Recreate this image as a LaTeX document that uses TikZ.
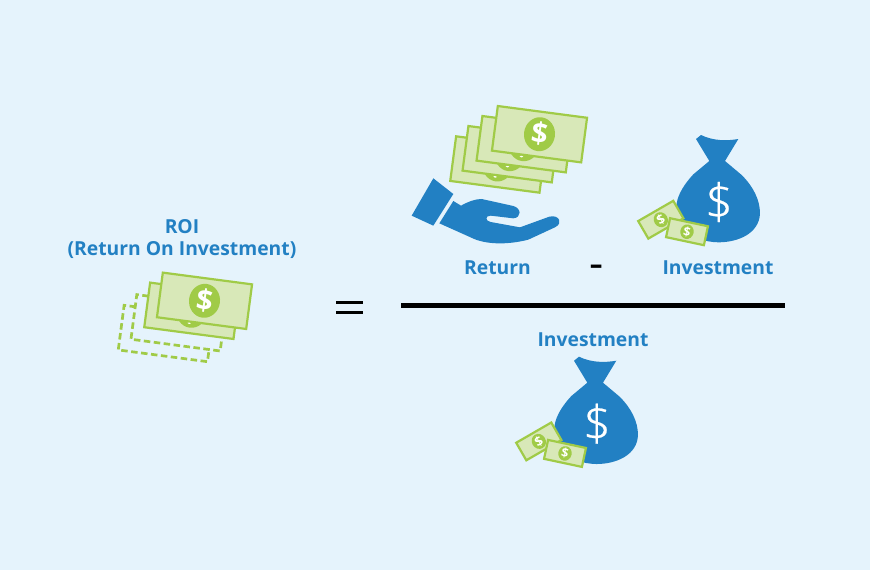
\documentclass[tikz,border=0pt]{standalone}
\usepackage{fontspec}
\setmainfont{Open Sans}
\newfontfamily\thinface[FakeBold=0.5]{Open Sans Light}
\definecolor{bgc}{HTML}{E5F3FC}
\definecolor{bluec}{HTML}{2280C3}
\definecolor{greenc}{HTML}{A0CB47}
\definecolor{lightg}{HTML}{D8E8B8}
\tikzset{
 lbl/.style={text=bluec,font=\bfseries\fontsize{19.3}{23}\selectfont,inner sep=0pt,align=center},
 billface/.style={draw=greenc,fill=lightg,line width=2.2pt},
 billdash/.style={draw=greenc,line width=2.7pt,dash pattern=on 6.5pt off 3.5pt},
 coinmark/.style={text=white,font=\bfseries\fontsize{29}{29}\selectfont,inner sep=0pt}
}
% \billat{x}{y}{angle}{scale}
\newcommand{\billat}[4]{%
 \begin{scope}[shift={(#1,#2)},rotate=#3,scale=#4,transform shape]
  \draw[billface] (-45,-22.5) rectangle (45,22.5);
  \fill[greenc] (0,0) ellipse (15.5 and 17);
  \node[coinmark] at (0,-0.5) {\$};
 \end{scope}}
\newcommand{\billback}[3]{%
 \begin{scope}[shift={(#1,#2)},rotate=#3]
  \draw[billface] (-45,-22.5) rectangle (45,22.5);
  \fill[greenc] (0,0) ellipse (15.5 and 17);
  \fill[white] (-1,12.5) ellipse (1.8 and 1);
 \end{scope}}
\newcommand{\billdashed}[3]{%
 \begin{scope}[shift={(#1,#2)},rotate=#3]
  \draw[billdash] (-33,-22.5) -- (-45,-22.5) -- (-45,22.5) -- (45,22.5) -- (45,12);
 \end{scope}}
\newcommand{\bagat}[2]{%
 \begin{scope}[shift={(#1,#2)},scale=0.3333]
  \fill[bluec] (198,42) -- (213,30) .. controls (250,48) and (290,48) .. (325,42)
   -- (285,108) -- (335,150) .. controls (370,185) and (390,225) .. (390,265)
   .. controls (388,325) and (325,352) .. (265,352)
   .. controls (180,350) and (140,300) .. (140,235)
   .. controls (145,205) and (165,175) .. (190,148) -- (238,108) -- cycle;
 \end{scope}
 \node[text=white,inner sep=0pt,font=\thinface\fontsize{49}{49}\selectfont] at (#1+89,#2+77) {\$};
 \billat{#1+30.8}{#2+94.7}{30}{0.45}
 \billat{#1+57}{#2+106.7}{-12}{0.43}}
\begin{document}
\begin{tikzpicture}[x=1pt,y=-1pt]
\useasboundingbox (0,0) rectangle (870,570);
\fill[bgc] (0,0) rectangle (870,570);
% ROI
\node[lbl] (roi) at (182,227) {ROI};
\node[lbl] (roifull) at (182,250.5) {(Return On Investment)};
\billdashed{165.8}{333.5}{-7.5}
\billdashed{178.5}{322.8}{-7.5}
\billback{191.8}{310.8}{-7.5}
\billat{204.5}{300.8}{-7.5}{1}
% equals
\draw[black,line width=3pt] (336,302.3) -- (362.7,302.3) (336,312.5) -- (362.7,312.5);
% return
\begin{scope}[shift={(400,95)},scale=0.3333]
 \fill[bluec] (100,250) -- (160,297) -- (100,392) -- (35,362) -- cycle;
 \fill[bluec] (118,385) -- (160,318) -- (183,332) .. controls (205,320) and (225,312) .. (245,312)
  -- (340,333) .. controls (365,340) and (365,368) .. (340,370)
  -- (272,362) .. controls (255,362) and (255,378) .. (272,381)
  -- (360,397) -- (448,365) .. controls (478,358) and (490,385) .. (465,397)
  -- (385,434) .. controls (330,448) and (270,450) .. (225,433) -- cycle;
\end{scope}
\billback{497.8}{164.5}{-7.5}
\billback{510.1}{154.2}{-7.5}
\billback{524.1}{144.2}{-7.5}
\billat{539.5}{134.2}{-7.5}{1}
\node[lbl] (ret) at (497.5,267.5) {Return};
\node[text=black,inner sep=0pt,font=\fontsize{44}{44}\selectfont] (minus) at (597,272) {-};
\bagat{630}{125}
\node[lbl] (inv1) at (718,267.5) {Investment};
\draw[black,line width=4.5pt] (401,305.5) -- (785,305.5);
\node[lbl] (inv2) at (593,339.5) {Investment};
\bagat{508}{346.7}
\end{tikzpicture}
\end{document}
